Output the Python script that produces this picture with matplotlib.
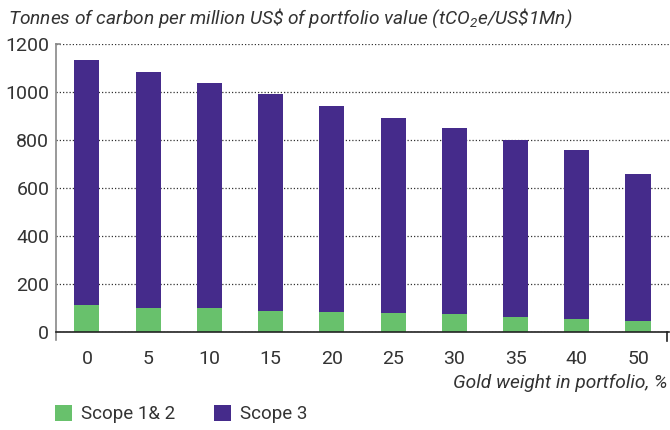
import matplotlib
matplotlib.use('Agg')
import matplotlib.pyplot as plt
import numpy as np

# Values
gold_weight = ['0', '5', '10', '15', '20', '25', '30', '35', '40', '50']
scope_12 = [112, 100, 100, 87, 83, 79, 75, 62, 54, 46]
total = [1133, 1083, 1037, 992, 942, 892, 850, 800, 758, 658]
scope_3 = [t - s for t, s in zip(total, scope_12)]

green = '#68C16C'
purple = '#452B8B'
text_col = '#333333'

plt.rcParams['font.family'] = ['Roboto', 'DejaVu Sans']
plt.rcParams['mathtext.fontset'] = 'custom'
plt.rcParams['mathtext.rm'] = 'Roboto:italic'
plt.rcParams['mathtext.it'] = 'Roboto:italic'

fig = plt.figure(figsize=(6.7, 4.3), dpi=100)
ax = fig.add_axes([0.084, 0.228, 0.914, 0.67])

x = np.arange(len(gold_weight))
ax.bar(x, scope_12, width=0.41, color=green, label='Scope 1& 2', zorder=3)
ax.bar(x, scope_3, width=0.41, bottom=scope_12, color=purple, label='Scope 3', zorder=3)

ax.set_xlim(-0.5, 9.5)
ax.set_ylim(0, 1200)
ax.set_yticks(range(0, 1201, 200))
ax.set_xticks(x)
ax.set_xticklabels(gold_weight)
ax.tick_params(axis='both', length=0, labelsize=14, colors=text_col)
ax.tick_params(axis='x', pad=13)
ax.tick_params(axis='y', pad=5)

ax.yaxis.grid(True, linestyle=(0, (1, 1.6)), color='#333333', lw=0.9, zorder=1)
for s in ['top', 'right']:
    ax.spines[s].set_visible(False)
ax.spines['left'].set_color('#888888')
ax.spines['left'].set_linewidth(1.2)
ax.spines['left'].set_bounds(-32, 1200)
ax.spines['bottom'].set_color('#222222')
ax.spines['bottom'].set_linewidth(1.2)
ax.spines['bottom'].set_zorder(4)

# small end ticks
ax.plot([0, 0.006], [1, 1], transform=ax.transAxes, color='#888888', lw=1.2, clip_on=False)
ax.plot([0.997, 0.997], [0, -0.03], transform=ax.transAxes, color='#222222', lw=1.2, clip_on=False)

fig.text(0.012, 0.958, r'Tonnes of carbon per million US\$ of portfolio value (tCO$_2$e/US\$1Mn)',
         fontsize=13.8, style='italic', color=text_col, va='center')
fig.text(0.997, 0.109, 'Gold weight in portfolio, %', fontsize=13.8, style='italic',
         color=text_col, ha='right', va='center')

ax.legend(loc='center left', bbox_to_anchor=(-0.018, -0.285), ncol=2, frameon=False,
          fontsize=13.5, handlelength=0.9, handleheight=0.9, handletextpad=0.5,
          columnspacing=2.07, labelcolor=text_col, borderpad=0)

fig.savefig('out.png', dpi=100)
